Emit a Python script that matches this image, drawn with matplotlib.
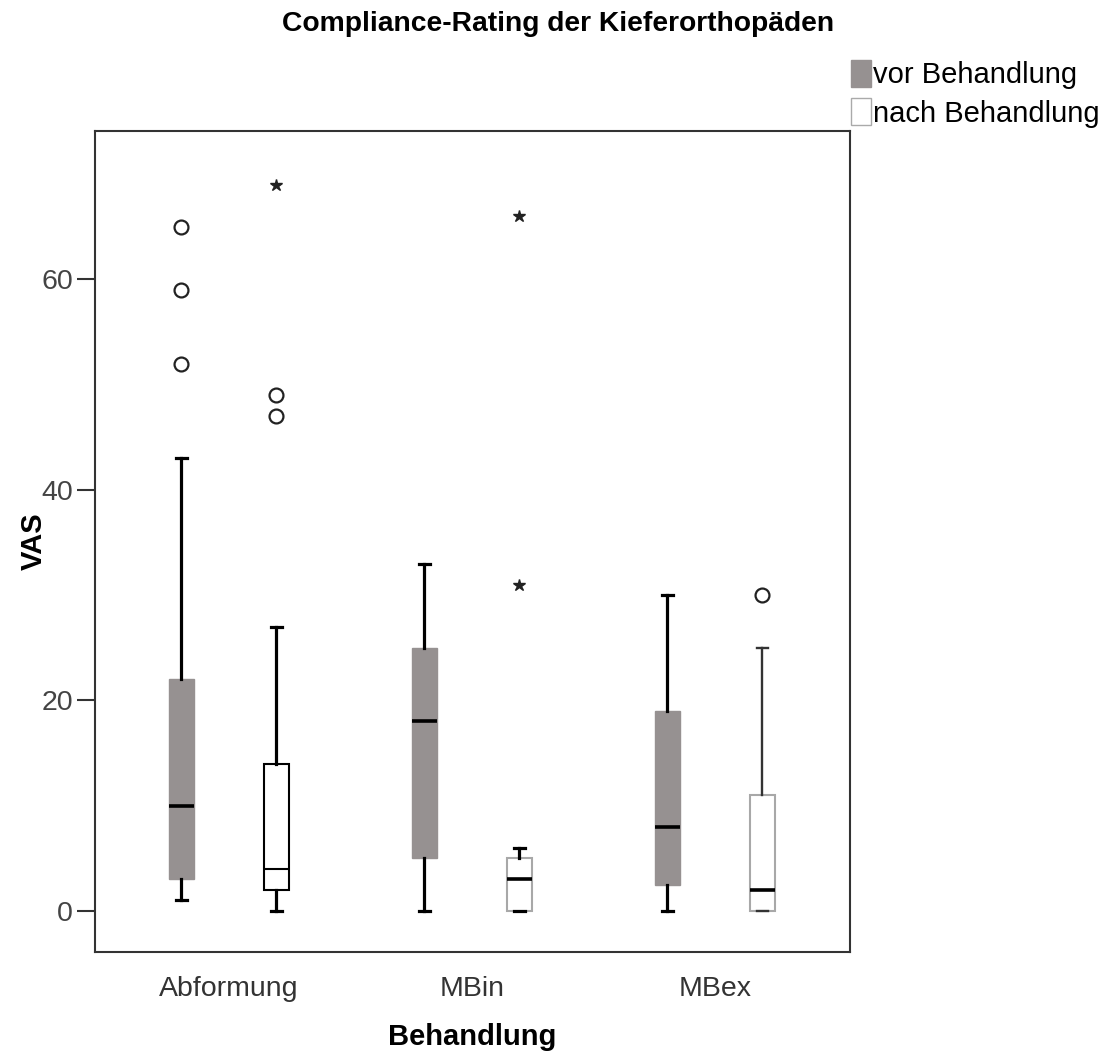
import matplotlib
matplotlib.use('Agg')
import matplotlib.pyplot as plt
from matplotlib.patches import Patch

plt.rcParams['font.family'] = ['Liberation Sans', 'DejaVu Sans']

# Data
groups = ['Abformung', 'MBin', 'MBex']
phases = ['vor Behandlung', 'nach Behandlung']

# per box: (low whisker, Q1, median, Q3, high whisker)
vor_stats = [(1, 3, 10, 22, 43), (0, 5, 18, 25, 33), (0, 2.5, 8, 19, 30)]
nach_stats = [(0, 2, 4, 14, 27), (0, 0, 3, 5, 6), (0, 0, 2, 11, 25)]

# outliers: circles (o) and extremes (*)
vor_circles = [[65, 59, 52], [], []]
nach_circles = [[49, 47], [], [30]]
vor_stars = [[], [], []]
nach_stars = [[69], [66, 31], []]

GRAY = '#969191'

fig = plt.figure(figsize=(11.06, 10.52), dpi=100)
ax = fig.add_axes([0.0859, 0.0951, 0.6826, 0.7804])

offset = 0.195
box_w = 0.103
cap_w = 0.045

def make_stats(s):
    lo, q1, med, q3, hi = s
    return dict(whislo=lo, q1=q1, med=med, q3=q3, whishi=hi, fliers=[])

for i, g in enumerate(groups):
    # vor
    pos = i + 1 - offset
    ax.bxp([make_stats(vor_stats[i])], positions=[pos], widths=box_w,
           capwidths=cap_w, showfliers=False, patch_artist=True,
           boxprops=dict(facecolor=GRAY, edgecolor=GRAY, linewidth=1),
           medianprops=dict(color='black', linewidth=2.6, solid_capstyle='butt'),
           whiskerprops=dict(color='black', linewidth=2.3),
           capprops=dict(color='black', linewidth=2.3))
    # nach
    pos2 = i + 1 + offset
    edge = 'black' if i == 0 else '#a8a8a8'
    med_lw = 1.5 if i == 0 else 2.6
    wh_col = 'black' if i < 2 else '#333333'
    wh_lw = 2.3 if i < 2 else 1.7
    ax.bxp([make_stats(nach_stats[i])], positions=[pos2], widths=box_w,
           capwidths=cap_w, showfliers=False, patch_artist=True,
           boxprops=dict(facecolor='white', edgecolor=edge, linewidth=1.5),
           medianprops=dict(color='black', linewidth=med_lw, solid_capstyle='butt'),
           whiskerprops=dict(color=wh_col, linewidth=wh_lw),
           capprops=dict(color=wh_col, linewidth=wh_lw))

    for p, circ, star in [(pos, vor_circles[i], vor_stars[i]),
                          (pos2, nach_circles[i], nach_stars[i])]:
        if circ:
            ax.plot([p] * len(circ), circ, 'o', mfc='none', mec='#222222',
                    mew=1.6, ms=10)
        if star:
            ax.plot([p] * len(star), star, '*', color='#222222', ms=9)

ax.set_xlim(0.45, 3.556)
ax.set_ylim(-3.9, 74.1)
ax.set_xticks([1, 2, 3])
ax.set_xticklabels(groups, fontsize=20.5, color='#333333')
ax.tick_params(axis='x', length=0, pad=17)
ax.set_yticks([0, 20, 40, 60])
ax.tick_params(axis='y', labelsize=20.5, labelcolor='#444444', length=13,
               width=1.5, color='#333333', pad=3)
for sp in ax.spines.values():
    sp.set_color('#333333')
    sp.set_linewidth(1.5)

ax.set_xlabel('Behandlung', fontsize=21, fontweight='bold')
ax.xaxis.set_label_coords(0.5, -0.086)
ax.set_ylabel('VAS', fontsize=21, fontweight='bold')
ax.yaxis.set_label_coords(-0.062, 0.5)

fig.text(0.505, 0.99, 'Compliance-Rating der Kieferorthopäden',
         ha='center', va='top', fontsize=20.3, fontweight='bold')

handles = [Patch(facecolor=GRAY, edgecolor=GRAY, label=phases[0]),
           Patch(facecolor='white', edgecolor='#aaaaaa', label=phases[1])]
fig.legend(handles=handles, loc='upper left', bbox_to_anchor=(0.769, 0.943),
           frameon=False, fontsize=21, handlelength=0.7, handleheight=1.05,
           handletextpad=0.08, labelspacing=0.3, borderaxespad=0, borderpad=0)

fig.savefig('out.png', dpi=100, facecolor='white')
